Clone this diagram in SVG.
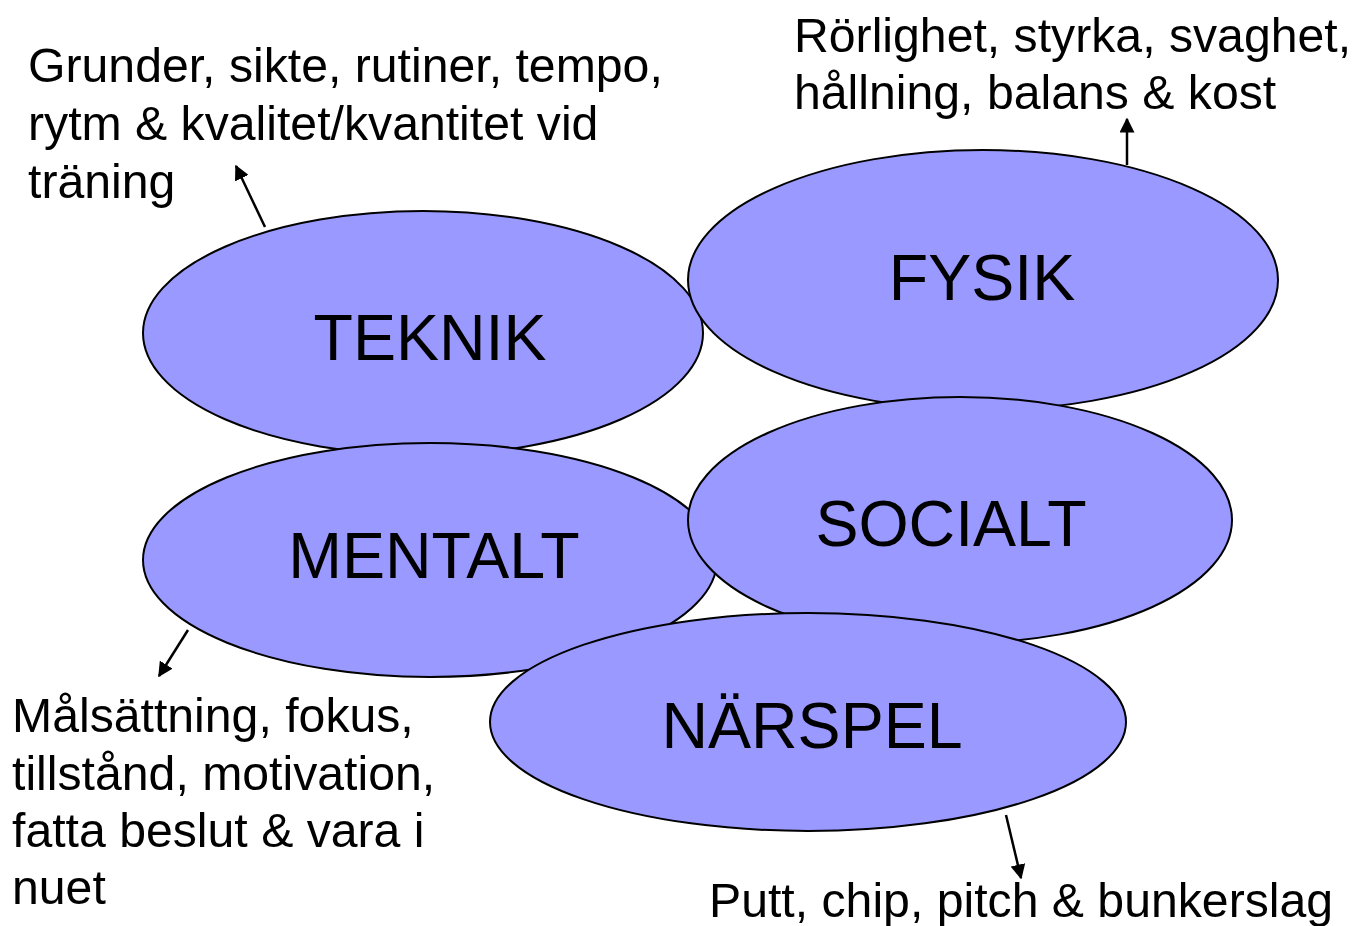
<svg xmlns="http://www.w3.org/2000/svg" width="1361" height="926" viewBox="0 0 1361 926">
<style>
.n{fill:#9999ff;stroke:#000;stroke-width:2}
.t{font-family:"Liberation Sans",Arial,sans-serif;fill:#000}
.big{font-size:64.5px;text-anchor:middle}
.lab{font-size:48.2px}
.c{stroke:#000;stroke-width:2.5;fill:none;marker-end:url(#ah)}
</style>
<defs>
<marker id="ah" viewBox="0 0 10 10" refX="9" refY="5" markerWidth="6" markerHeight="6" markerUnits="strokeWidth" orient="auto">
<path d="M0,0 L10,5 L0,10 z" fill="#000"/>
</marker>
</defs>
<rect width="1361" height="926" fill="#fff"/>
<g id="teknik"><ellipse class="n" cx="423" cy="333" rx="280" ry="122"/><text class="t big" x="430" y="360">TEKNIK</text></g>
<g id="fysik"><ellipse class="n" cx="983" cy="280" rx="295" ry="130"/><text class="t big" x="982" y="300">FYSIK</text></g>
<g id="mentalt"><ellipse class="n" cx="430" cy="560" rx="287" ry="117"/><text class="t big" x="434" y="578">MENTALT</text></g>
<g id="socialt"><ellipse class="n" cx="960" cy="520" rx="272" ry="123"/><text class="t big" x="951" y="546">SOCIALT</text></g>
<g id="narspel"><ellipse class="n" cx="808" cy="722" rx="318" ry="109"/><text class="t big" x="812" y="748">NÄRSPEL</text></g>
<g id="connectors">
<line class="c" x1="265" y1="227" x2="236" y2="166"/>
<line class="c" x1="1127" y1="165" x2="1127" y2="119"/>
<line class="c" x1="188" y1="630" x2="159" y2="676"/>
<line class="c" x1="1006" y1="815" x2="1021" y2="878"/>
</g>
<g id="labels">
<text class="t lab" x="28" y="82">Grunder, sikte, rutiner, tempo,</text>
<text class="t lab" x="28" y="140">rytm &amp; kvalitet/kvantitet vid</text>
<text class="t lab" x="28" y="198">träning</text>
<text class="t lab" x="794" y="52">Rörlighet, styrka, svaghet,</text>
<text class="t lab" x="794" y="109">hållning, balans &amp; kost</text>
<text class="t lab" x="12" y="732">Målsättning, fokus,</text>
<text class="t lab" x="12" y="790">tillstånd, motivation,</text>
<text class="t lab" x="12" y="847">fatta beslut &amp; vara i</text>
<text class="t lab" x="12" y="904">nuet</text>
<text class="t lab" x="709" y="917">Putt, chip, pitch &amp; bunkerslag</text>
</g>
</svg>
